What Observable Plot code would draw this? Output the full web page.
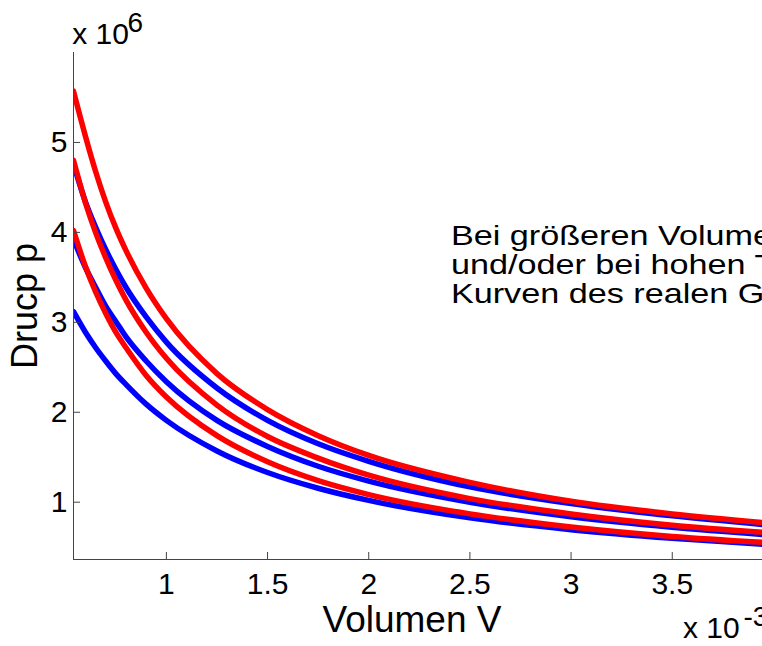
<!DOCTYPE html>
<html><head><meta charset="utf-8">
<script src="https://cdn.jsdelivr.net/npm/d3@7"></script>
<script src="https://cdn.jsdelivr.net/npm/@observablehq/plot@0.6"></script>
<style>
html,body{margin:0;padding:0;background:#fff;overflow:hidden;}
#chart svg{overflow:hidden;display:block;}
</style></head><body><div id="chart"></div>
<script>
// Volume samples (x 10^-3)
const volume = [0.541,0.6,0.65,0.7,0.75,0.8,0.9,1.0,1.25,1.5,1.75,2.0,2.5,3.0,3.5,3.946];
// Pressure readings (x 10^6)
const red1  = [4.02,3.62,3.34,3.10,2.89,2.72,2.41,2.17,1.74,1.45,1.24,1.085,0.87,0.725,0.62,0.555];
const red2  = [4.80,4.33,4.00,3.72,3.47,3.25,2.89,2.60,2.08,1.73,1.49,1.30,1.04,0.87,0.745,0.665];
const red3  = [5.57,5.07,4.68,4.34,4.05,3.80,3.38,3.04,2.43,2.03,1.74,1.52,1.22,1.01,0.87,0.775];
const blue1 = [3.12,2.89,2.72,2.57,2.43,2.31,2.09,1.91,1.57,1.33,1.155,1.02,0.826,0.694,0.599,0.533];
const blue2 = [3.92,3.61,3.39,3.18,3.01,2.84,2.57,2.34,1.91,1.62,1.40,1.235,1.0,0.838,0.722,0.642];
const blue3 = [4.76,4.34,4.06,3.81,3.59,3.39,3.06,2.78,2.27,1.91,1.65,1.455,1.17,0.984,0.848,0.753];

const xTicks = [1,1.5,2,2.5,3,3.5];
const yTicks = [1,2,3,4,5];
const xDomain = [0.541,3.946];
const yDomain = [0.363,6.0];
const xLabel = "Volumen V";
const yLabel = "Drucp p";
const yExpBase = "x 10", yExp = "6";
const xExpBase = "x 10", xExp = "-3";
const annoLines = ["Bei größeren Volumen","und/oder bei hohen Temperaturen nähern sich die","Kurven des realen Gases denen des idealen Gases an."];
const annoX = [2.406], annoY = [3.22];

const series = [
  {name:"blue1", color:"#0000ff", values:blue1},
  {name:"blue2", color:"#0000ff", values:blue2},
  {name:"blue3", color:"#0000ff", values:blue3},
  {name:"red1",  color:"#ff0000", values:red1},
  {name:"red2",  color:"#ff0000", values:red2},
  {name:"red3",  color:"#ff0000", values:red3}
];
const rowsOf = s => volume.map((v,i)=>({V:v, p:s.values[i]}));
const anno = annoX.map((x,i)=>({x, y:annoY[i], t:annoLines.join("\n")}));

const W=762, H=646, mL=73, mR=0, mT=52, mB=87;
const pw=W-mL-mR, ph=H-mT-mB;
const font = "'Liberation Sans', Arial, Helvetica, sans-serif";
const axisColor = "#444";

const plot = Plot.plot({
  width:W, height:H, marginLeft:mL, marginRight:mR, marginTop:mT, marginBottom:mB,
  style:{fontFamily:font, color:"#000", background:"#fff"},
  x:{domain:xDomain},
  y:{domain:yDomain},
  marks:[
    ...series.map(s=>Plot.line(rowsOf(s),{x:"V",y:"p",stroke:s.color,strokeWidth:5.5,curve:"monotone-x",clip:true})),
    Plot.ruleX([xDomain[0]],{stroke:axisColor}),
    Plot.ruleY([yDomain[0]],{stroke:axisColor}),
    Plot.tickX(xTicks,{x:d=>d,stroke:axisColor,insetTop:ph-7}),
    Plot.tickY(yTicks,{y:d=>d,stroke:axisColor,insetRight:pw-7}),
    Plot.axisX({ticks:xTicks,tickSize:0,tickPadding:13,fontSize:30,tickFormat:d=>String(d),label:null}),
    Plot.axisY({ticks:yTicks,tickSize:0,tickPadding:6,fontSize:30,tickFormat:d=>String(d),label:null}),
    Plot.text([xLabel],{text:d=>d,frameAnchor:"bottom",textAnchor:"middle",dx:-6,dy:72,lineAnchor:"bottom",fontSize:37}),
    Plot.text([yLabel],{text:d=>d,frameAnchor:"left",textAnchor:"middle",rotate:-90,dx:-36.5,lineAnchor:"bottom",fontSize:36}),
    Plot.text([yExpBase],{text:d=>d,frameAnchor:"top-left",textAnchor:"start",lineAnchor:"bottom",dx:-1.3,dy:-9,fontSize:30}),
    Plot.text([yExp],{text:d=>d,frameAnchor:"top-left",textAnchor:"start",lineAnchor:"bottom",dx:54,dy:-20.5,fontSize:28}),
    Plot.text([xExpBase],{text:d=>d,frameAnchor:"bottom-right",textAnchor:"start",lineAnchor:"bottom",dx:-79.5,dy:78,fontSize:30}),
    Plot.text([xExp],{text:d=>d,frameAnchor:"bottom-right",textAnchor:"start",lineAnchor:"bottom",dx:-19,dy:66.5,fontSize:28}),
    Plot.text(anno,{x:"x",y:"y",text:"t",textAnchor:"start",lineAnchor:"bottom",fontSize:28.5,lineHeight:1.012,clip:true})
  ]
});
// the annotation in the reference is set wider than its height suggests: stretch it horizontally about its anchor
d3.select(plot).selectAll("text").filter(function(){ return this.textContent.startsWith("Bei"); })
  .attr("transform", function(){ return (this.getAttribute("transform")||"") + " scale(1.2,1)"; });
document.getElementById("chart").appendChild(plot);
</script>
</body></html>
